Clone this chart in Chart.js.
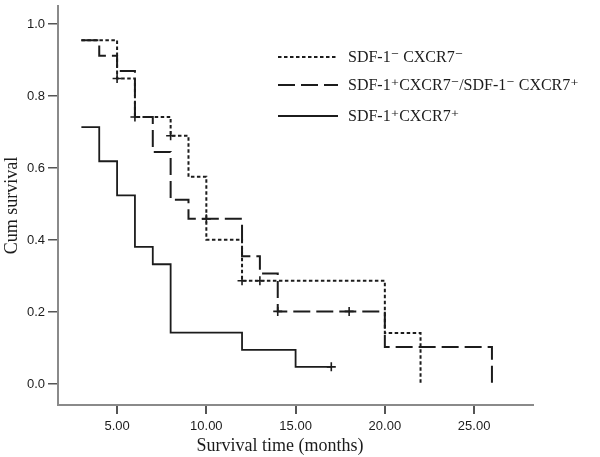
<!DOCTYPE html>
<html>
<head>
<meta charset="utf-8">
<script src="https://cdn.jsdelivr.net/npm/chart.js@4.4.1/dist/chart.umd.min.js"></script>
<style>
  html, body { margin: 0; padding: 0; background: #fff; }
  #wrap { width: 600px; height: 457px; }
</style>
</head>
<body>
<div id="wrap"><canvas id="km"></canvas></div>
<script>
// ----------------------------------------
// Kaplan-Meier curves
// ----------------------------------------

// SDF-1- CXCR7-
var negTimes = [3, 5, 6, 8, 9, 10, 12, 20, 22];
var negSurv = [0.955, 0.849, 0.742, 0.69, 0.576, 0.401, 0.287, 0.142, 0];
var negCensored = [5, 6, 8, 12, 13];

// SDF-1+CXCR7- / SDF-1- CXCR7+
var mixTimes = [3, 4, 5, 6, 7, 8, 9, 12, 13, 14, 20, 26];
var mixSurv = [0.955, 0.912, 0.87, 0.742, 0.645, 0.512, 0.459, 0.355, 0.307, 0.202, 0.103, 0];
var mixCensored = [10, 14, 18];

// SDF-1+CXCR7+
var posTimes = [3, 4, 5, 6, 7, 8, 12, 15, 17];
var posSurv = [0.714, 0.619, 0.524, 0.381, 0.333, 0.143, 0.095, 0.048, 0.048];
var posCensored = [17];

var groupLabels = [
    'SDF-1\u207B CXCR7\u207B',
    'SDF-1\u207ACXCR7\u207B/SDF-1\u207B CXCR7\u207A',
    'SDF-1\u207ACXCR7\u207A'
];

var xTicks = [5, 10, 15, 20, 25];
var yTicks = [0, 0.2, 0.4, 0.6, 0.8, 1.0];

var ink = '#1c1c1c';

// step value of a curve at time t
function survAt(times, surv, t) {
    var s = surv[0];
    for (var i = 0; i < times.length; i++) {
        if (times[i] <= t) s = surv[i];
    }
    return s;
}

function curve(times, surv) {
    return times.map(function (t, i) { return { x: t, y: surv[i] }; });
}

function marks(times, surv, cens) {
    return cens.map(function (t) { return { x: t, y: survAt(times, surv, t) }; });
}

var dashes = [[3.5, 2.5], [17, 6], []];
var widths = [2, 2, 1.8];

function lineSet(label, data, i) {
    return {
        label: label,
        data: data,
        showLine: true,
        // horizontal first, then drop at the event time
        stepped: 'before',
        borderColor: ink,
        borderWidth: widths[i],
        borderDash: dashes[i],
        pointRadius: 0,
        fill: false
    };
}

function censorSet(data) {
    return {
        label: 'censored',
        data: data,
        showLine: false,
        pointStyle: 'cross',
        pointRadius: 4.5,
        borderColor: ink,
        borderWidth: 1.6,
        backgroundColor: ink
    };
}

// Legend drawn inside the plot, with line samples
var kmLegend = {
    id: 'kmLegend',
    afterDraw: function (chart, args, opts) {
        var ctx = chart.ctx;
        ctx.save();
        ctx.font = '16px "Liberation Serif", "DejaVu Serif", serif';
        ctx.fillStyle = ink;
        ctx.textBaseline = 'middle';
        for (var i = 0; i < 3; i++) {
            var ds = chart.data.datasets[i];
            var y = opts.rows[i];
            ctx.beginPath();
            ctx.strokeStyle = ink;
            ctx.lineWidth = ds.borderWidth;
            ctx.setLineDash(ds.borderDash);
            ctx.moveTo(opts.x0, y);
            ctx.lineTo(opts.x1, y);
            ctx.stroke();
            ctx.setLineDash([]);
            ctx.fillText(ds.label, opts.textX, y + 1);
        }
        ctx.restore();
    }
};

// x axis title
var xTitle = {
    id: 'xTitle',
    afterDraw: function (chart, args, opts) {
        var ctx = chart.ctx;
        ctx.save();
        ctx.font = '18px "Liberation Serif", "DejaVu Serif", serif';
        ctx.fillStyle = ink;
        ctx.textAlign = 'center';
        ctx.textBaseline = 'middle';
        ctx.fillText(opts.text, opts.x, opts.y);
        ctx.restore();
    }
};

var ctx = document.getElementById('km').getContext('2d');
var chart = new Chart(ctx, {
    type: 'scatter',
    data: {
        datasets: [
            lineSet(groupLabels[0], curve(negTimes, negSurv), 0),
            lineSet(groupLabels[1], curve(mixTimes, mixSurv), 1),
            lineSet(groupLabels[2], curve(posTimes, posSurv), 2),
            censorSet(marks(negTimes, negSurv, negCensored)),
            censorSet(marks(mixTimes, mixSurv, mixCensored)),
            censorSet(marks(posTimes, posSurv, posCensored))
        ]
    },
    options: {
        responsive: true,
        maintainAspectRatio: false,
        animation: false,
        layout: { padding: { top: 3, right: 67, left: 0, bottom: 0 } },
        plugins: {
            legend: { display: false },
            tooltip: { enabled: false },
            kmLegend: { x0: 278, x1: 338, textX: 348, rows: [57, 85, 116] },
            xTitle: { text: 'Survival time (months)', x: 280, y: 446 }
        },
        scales: {
            x: {
                type: 'linear',
                min: 1.69,
                max: 28.3,
                afterFit: function (s) {
                    s.height = 52;
                    s.paddingLeft = 0;
                    s.paddingRight = 0;
                },
                afterBuildTicks: function (s) {
                    s.ticks = xTicks.map(function (v) { return { value: v }; });
                },
                border: { display: true, color: '#8a8a8a', width: 2 },
                grid: { drawOnChartArea: false, drawTicks: true, tickLength: 9, color: '#555', lineWidth: 2 },
                ticks: {
                    padding: 5,
                    color: ink,
                    font: { family: '"Liberation Sans", Arial, sans-serif', size: 13 },
                    callback: function (v) { return v.toFixed(2); }
                }
            },
            y: {
                min: -0.058,
                max: 1.05,
                afterFit: function (s) {
                    s.width = 58;
                    s.paddingTop = 0;
                    s.paddingBottom = 0;
                },
                afterBuildTicks: function (s) {
                    s.ticks = yTicks.map(function (v) { return { value: v }; });
                },
                border: { display: true, color: '#8a8a8a', width: 2 },
                grid: { drawOnChartArea: false, drawTicks: true, tickLength: 10, color: '#555', lineWidth: 1.5 },
                ticks: {
                    padding: 3,
                    color: ink,
                    font: { family: '"Liberation Sans", Arial, sans-serif', size: 13 },
                    callback: function (v) { return v.toFixed(1); }
                },
                title: {
                    display: true,
                    text: 'Cum survival',
                    color: ink,
                    padding: { top: 1, bottom: 0 },
                    font: { family: '"Liberation Serif", "DejaVu Serif", serif', size: 18 }
                }
            }
        }
    },
    plugins: [kmLegend, xTitle]
});
</script>
</body>
</html>
